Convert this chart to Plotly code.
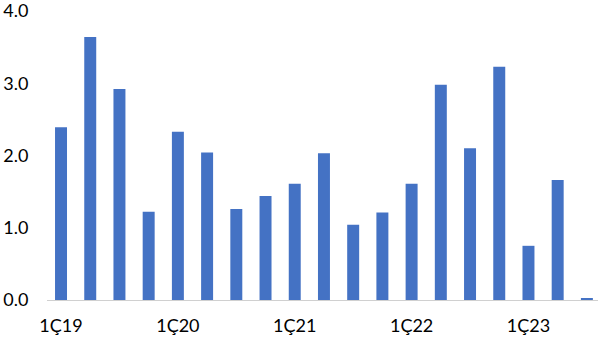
import plotly.graph_objects as go

quarters = ["1Ç19", "2Ç19", "3Ç19", "4Ç19",
            "1Ç20", "2Ç20", "3Ç20", "4Ç20",
            "1Ç21", "2Ç21", "3Ç21", "4Ç21",
            "1Ç22", "2Ç22", "3Ç22", "4Ç22",
            "1Ç23", "2Ç23", "3Ç23"]
values = [2.39, 3.64, 2.92, 1.22, 2.33, 2.04, 1.26, 1.44, 1.61, 2.03,
          1.04, 1.21, 1.61, 2.98, 2.10, 3.23, 0.75, 1.66, 0.02]
tick_labels = ["1Ç19", "1Ç20", "1Ç21", "1Ç22", "1Ç23"]
y_ticks = [0, 1, 2, 3, 4]

fig = go.Figure(go.Bar(x=quarters, y=values, marker_color="#4472C4",
                       marker_line_width=0, width=0.41))

fig.update_layout(
    width=598, height=338,
    margin=dict(l=47, r=0, t=11, b=38),
    paper_bgcolor="white", plot_bgcolor="white",
    font=dict(family="Lato", size=18, color="#000000"),
    showlegend=False,
)
fig.update_xaxes(
    type="category", range=[-0.48, 18.38],
    tickmode="array", tickvals=tick_labels, ticktext=tick_labels,
    showline=True, linecolor="#d0d0d0", linewidth=1,
    ticks="outside", ticklen=9, tickcolor="rgba(0,0,0,0)",
    showgrid=False, zeroline=False,
)
fig.update_yaxes(
    range=[0, 4], tickmode="array", tickvals=y_ticks,
    ticktext=[f"{v:.1f}" for v in y_ticks], ticklabeloverflow="allow",
    showline=False, showgrid=False, zeroline=False,
    ticks="outside", ticklen=14, tickcolor="rgba(0,0,0,0)",
)

fig.write_html("out.html")
